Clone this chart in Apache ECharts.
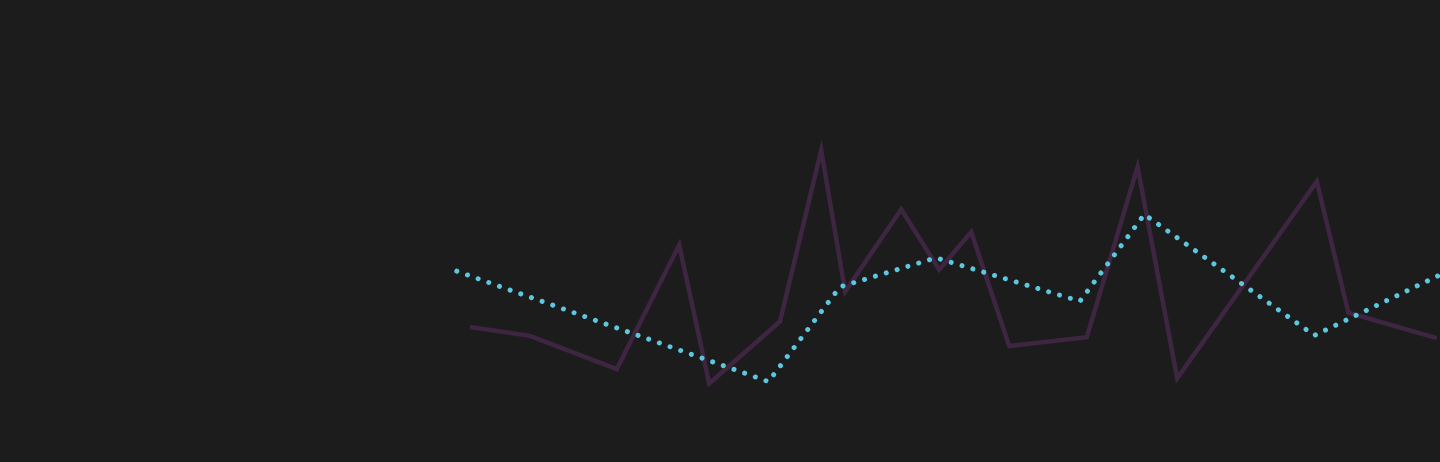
<!DOCTYPE html>
<html>
<head>
<meta charset="utf-8">
<style>
  html, body { margin: 0; padding: 0; background: #1c1c1c; }
  #chart { width: 1440px; height: 462px; }
</style>
<script src="https://cdn.jsdelivr.net/npm/echarts@6/dist/echarts.min.js"></script>
</head>
<body>
<div id="chart"></div>
<script>
// 紫色实线：x 位置与数值
var purpleX = [117.5, 132.5, 154.2, 169.8, 177.3, 195, 205.3, 211.3, 225.3, 234.8, 242.8, 252.3, 271.7, 284.4, 294.3, 329.2, 337.1, 359.2];
var purpleY = [29.2, 27.3, 20.1, 47.0, 17.0, 30.4, 67.5, 36.9, 54.7, 41.6, 49.8, 25.1, 27.0, 63.9, 18.1, 60.7, 32.3, 26.8];

// 青色点线
var cyanX = [114.2, 192.1, 210, 234, 270, 286.1, 328.6, 360];
var cyanY = [41.3, 17.4, 37.9, 44.2, 34.8, 53.6, 27.4, 40.5];

function pairs(xs, ys) {
  return xs.map(function (x, i) { return [x, ys[i]]; });
}

var chartDom = document.getElementById("chart");
var myChart = echarts.init(chartDom);

var option = {
  backgroundColor: "#1c1c1c",
  animation: false,
  grid: { left: 0, right: 0, top: 0, bottom: 0 },
  xAxis: { type: "value", min: 0, max: 360, show: false },
  yAxis: { type: "value", min: 0, max: 100, show: false },
  series: [
    {
      type: "line",
      data: pairs(purpleX, purpleY),
      symbol: "none",
      lineStyle: { color: "#3e2541", width: 4.5, join: "miter", miterLimit: 20 },
    },
    {
      type: "line",
      data: pairs(cyanX, cyanY),
      symbol: "none",
      lineStyle: { color: "#5bc8e0", width: 5, type: [0.01, 11.3], cap: "round" },
    },
  ],
};

myChart.setOption(option);

window.addEventListener("resize", function () {
  myChart.resize();
});
</script>
</body>
</html>
